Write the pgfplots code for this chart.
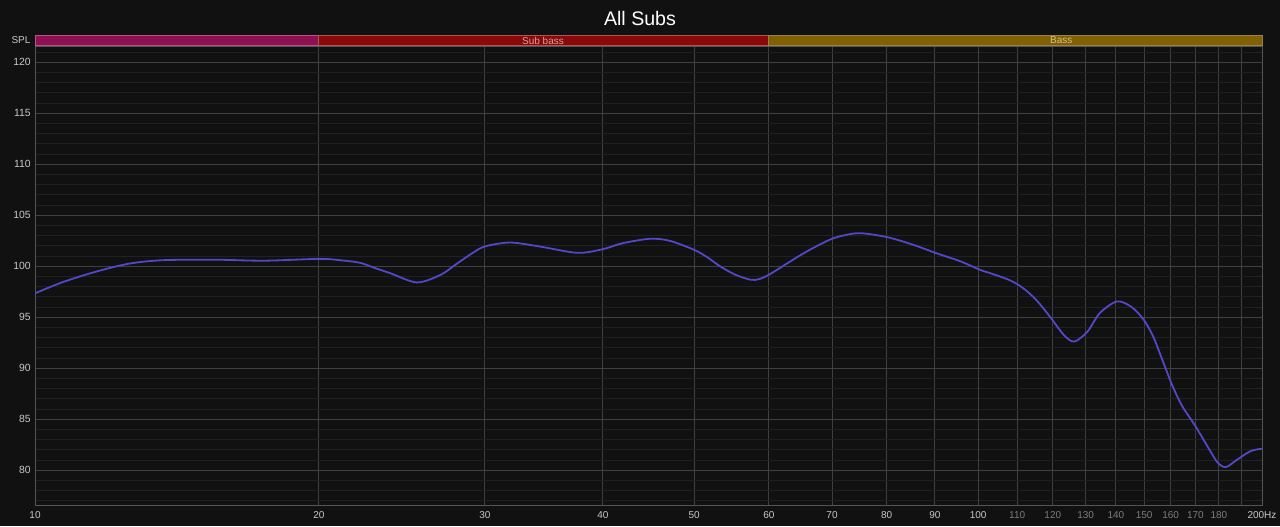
\documentclass[border=0pt]{standalone}
\usepackage{fontspec}
\setmainfont{Liberation Sans}
\usepackage{pgfplots}
\pgfplotsset{compat=1.18}
\definecolor{bg}{RGB}{17,17,17}
\definecolor{gridmaj}{RGB}{64,64,64}
\definecolor{gridmin}{RGB}{33,33,33}
\definecolor{gridhund}{RGB}{150,150,150}
\definecolor{axisgray}{RGB}{85,85,85}
\definecolor{lab}{RGB}{200,200,200}
\definecolor{dimlab}{RGB}{125,125,125}
\definecolor{curve}{RGB}{82,72,200}
\definecolor{bandmag}{RGB}{140,16,82}
\definecolor{bandmagl}{RGB}{175,90,130}
\definecolor{bandred}{RGB}{138,8,8}
\definecolor{bandredl}{RGB}{160,90,90}
\definecolor{bandgold}{RGB}{128,96,0}
\definecolor{bandgoldl}{RGB}{150,130,80}
\definecolor{sublab}{RGB}{215,160,160}
\definecolor{basslab}{RGB}{210,190,135}
\begin{document}
\begin{tikzpicture}
\useasboundingbox (0,0) rectangle (640pt,263pt);
\fill[bg] (0,0) rectangle (640pt,263pt);
\begin{axis}[
  at={(17.5pt,10.5pt)}, anchor=south west,
  scale only axis, width=613.5pt, height=229pt,
  xmode=log, xmin=10, xmax=200, ymin=76.6, ymax=121.5,
  /pgf/number format/assume math mode=true,
  xtick={10,20,30,40,50,60,70,80,90,110,120,130,140,150,160,170,180,190,200},
  xticklabels={10,20,30,40,50,60,70,80,90,\textcolor{dimlab}{110},\textcolor{dimlab}{120},\textcolor{dimlab}{130},\textcolor{dimlab}{140},\textcolor{dimlab}{150},\textcolor{dimlab}{160},\textcolor{dimlab}{170},\textcolor{dimlab}{180},{},200Hz},
  extra x ticks={100}, extra x tick labels={100},
  extra x tick style={grid style={color=gridhund, line width=0.5pt}},
  ytick={80,85,...,120},
  minor ytick={77,78,...,121},
  xmajorgrids, ymajorgrids, yminorgrids, xminorgrids=false,
  major grid style={color=gridmaj, line width=0.5pt},
  minor grid style={color=gridmin, line width=0.5pt},
  major tick length=0pt, minor tick length=0pt,
  axis line style={color=axisgray, line width=0.5pt},
  xticklabel style={font=\fontsize{5}{6}\selectfont, text=lab, inner sep=0pt, yshift=-2.9pt},
  yticklabel style={font=\fontsize{5.2}{6}\selectfont, text=lab, inner sep=0pt, xshift=-2pt},
  clip=true,
]
\addplot[smooth, tension=0.5, color=curve, line width=0.9pt] coordinates {
(10,97.35) (10.7,98.45) (11.63,99.5) (12.6,100.27) (13.67,100.6) (15.5,100.65)
(17.5,100.55) (20,100.73) (21.05,100.6) (22.1,100.35) (22.9,99.85) (23.8,99.33)
(25.4,98.42) (26.9,99.15) (28,100.25) (29.1,101.3) (30,101.95) (31.9,102.33)
(34.3,101.94) (37.6,101.32) (40,101.68) (42,102.27) (44.9,102.7) (47.1,102.5)
(50,101.61) (51.6,100.9) (53.3,99.98) (55.3,99.17) (57.4,98.68) (58.6,98.75)
(60,99.17) (62.4,100.15) (64.9,101.13) (67.3,101.94) (70,102.7) (72.5,103.08)
(75.1,103.25) (80.1,102.86) (85.4,102.1) (90.2,101.3) (95.7,100.5) (100.5,99.65)
(103.2,99.3) (108.2,98.61) (111.6,97.86) (115.2,96.72) (119.1,95.09) (123.2,93.3)
(126.4,92.62) (130.6,93.6) (134.6,95.42) (140.4,96.56) (145.5,96.0) (149.8,94.77)
(153.3,93.13) (157,90.69) (160.8,88.24) (164.6,86.29) (170,84.33) (175.4,82.22)
(179.5,80.75) (183.2,80.32) (188.4,81.08) (194.6,81.89) (200,82.12)
};
\end{axis}
\begin{axis}[
  at={(17.5pt,240pt)}, anchor=south west,
  scale only axis, width=613.5pt, height=5.5pt,
  xmode=log, xmin=10, xmax=200, ymin=0, ymax=1,
  hide axis, clip=false,
]
\addplot[fill=bandmag, draw=bandmagl, line width=0.5pt] coordinates {(10,0) (20,0) (20,1) (10,1)} -- cycle;
\addplot[fill=bandred, draw=bandredl, line width=0.5pt] coordinates {(20,0) (60,0) (60,1) (20,1)} -- cycle;
\addplot[fill=bandgold, draw=bandgoldl, line width=0.5pt] coordinates {(60,0) (200,0) (200,1) (60,1)} -- cycle;
\node[font=\fontsize{5}{6}\selectfont, text=sublab, inner sep=0pt] at (axis cs:34.57,0.5) {Sub bass};
\node[font=\fontsize{5}{6}\selectfont, text=basslab, inner sep=0pt] at (axis cs:122.5,0.5) {Bass};
\end{axis}
\node[font=\fontsize{5}{6}\selectfont, text=lab, inner sep=0pt] at (10.5pt,242.75pt) {SPL};
\node[font=\fontsize{9.8}{11}\selectfont, text=white, inner sep=0pt] at (320pt,254pt) {All Subs};
\end{tikzpicture}
\end{document}
